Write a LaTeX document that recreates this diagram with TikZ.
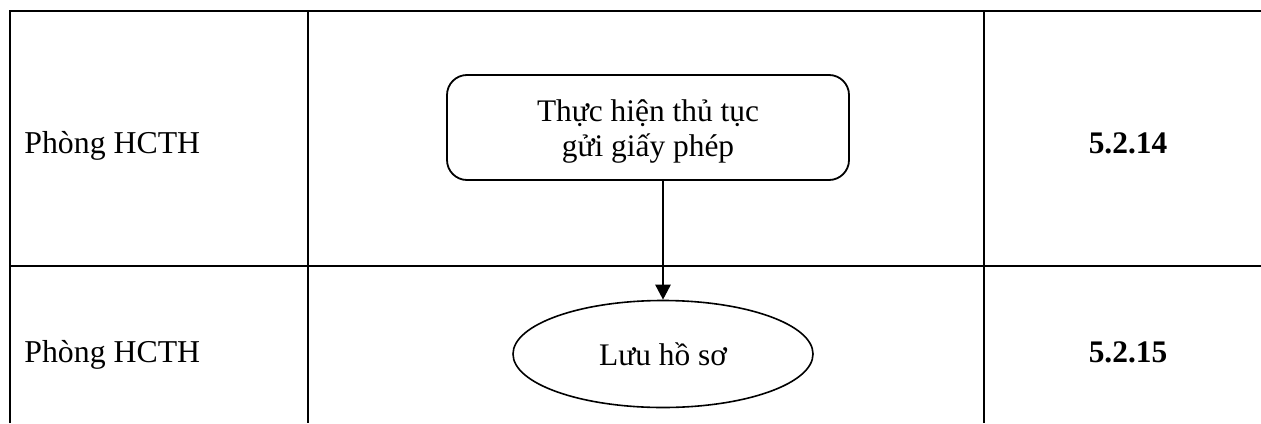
\documentclass[tikz,border=0pt]{standalone}
\usepackage{fontspec}
\setmainfont{Liberation Serif}
\usetikzlibrary{positioning,shapes,arrows.meta}

\begin{document}
\begin{tikzpicture}[x=0.5pt,y=-0.5pt,->,>={Triangle[width=7.5pt,length=7.5pt]},
                    grid line/.style={-,line width=1.4pt,line join=miter},
                    task box/.style={draw,rounded corners=10pt,line width=0.9pt,minimum width=201pt,minimum height=52.5pt,align=center,font=\fontsize{15.7}{17.5}\selectfont},
                    end oval/.style={ellipse,draw,line width=0.8pt,minimum width=150pt,minimum height=53.5pt,inner sep=0pt,font=\fontsize{15.7}{17.5}\selectfont},
                    unit label/.style={anchor=base west,inner sep=0pt,font=\fontsize{15.9}{17.5}\selectfont},
                    code label/.style={anchor=base,inner sep=0pt,font=\fontsize{15.7}{17.5}\selectfont\bfseries}
                   ]
  \useasboundingbox (0,0) rectangle (1261,423);

  % table
  \draw[grid line] (10,423) -- (10,11) -- (1261,11);
  \draw[grid line] (308,11) -- (308,423);
  \draw[grid line] (984,11) -- (984,423);
  \draw[grid line] (10,266) -- (1261,266);

  \node[unit label] (unit1) at (24,153) {Phòng HCTH};
  \node[unit label] (unit2) at (24,362) {Phòng HCTH};
  \node[code label] (code1) at (1128,153) {5.2.14};
  \node[code label] (code2) at (1128,362) {5.2.15};

  \node[task box] (send) at (648,127.5) {\rule{0pt}{15pt}Thực hiện thủ tục\\gửi giấy phép};
  \node[end oval] (store) at (663,354) {\raisebox{-4pt}{Lưu hồ sơ}};

  \path (send.south -| store.north) edge[line width=1.3pt] (store.north);
\end{tikzpicture}
\end{document}
